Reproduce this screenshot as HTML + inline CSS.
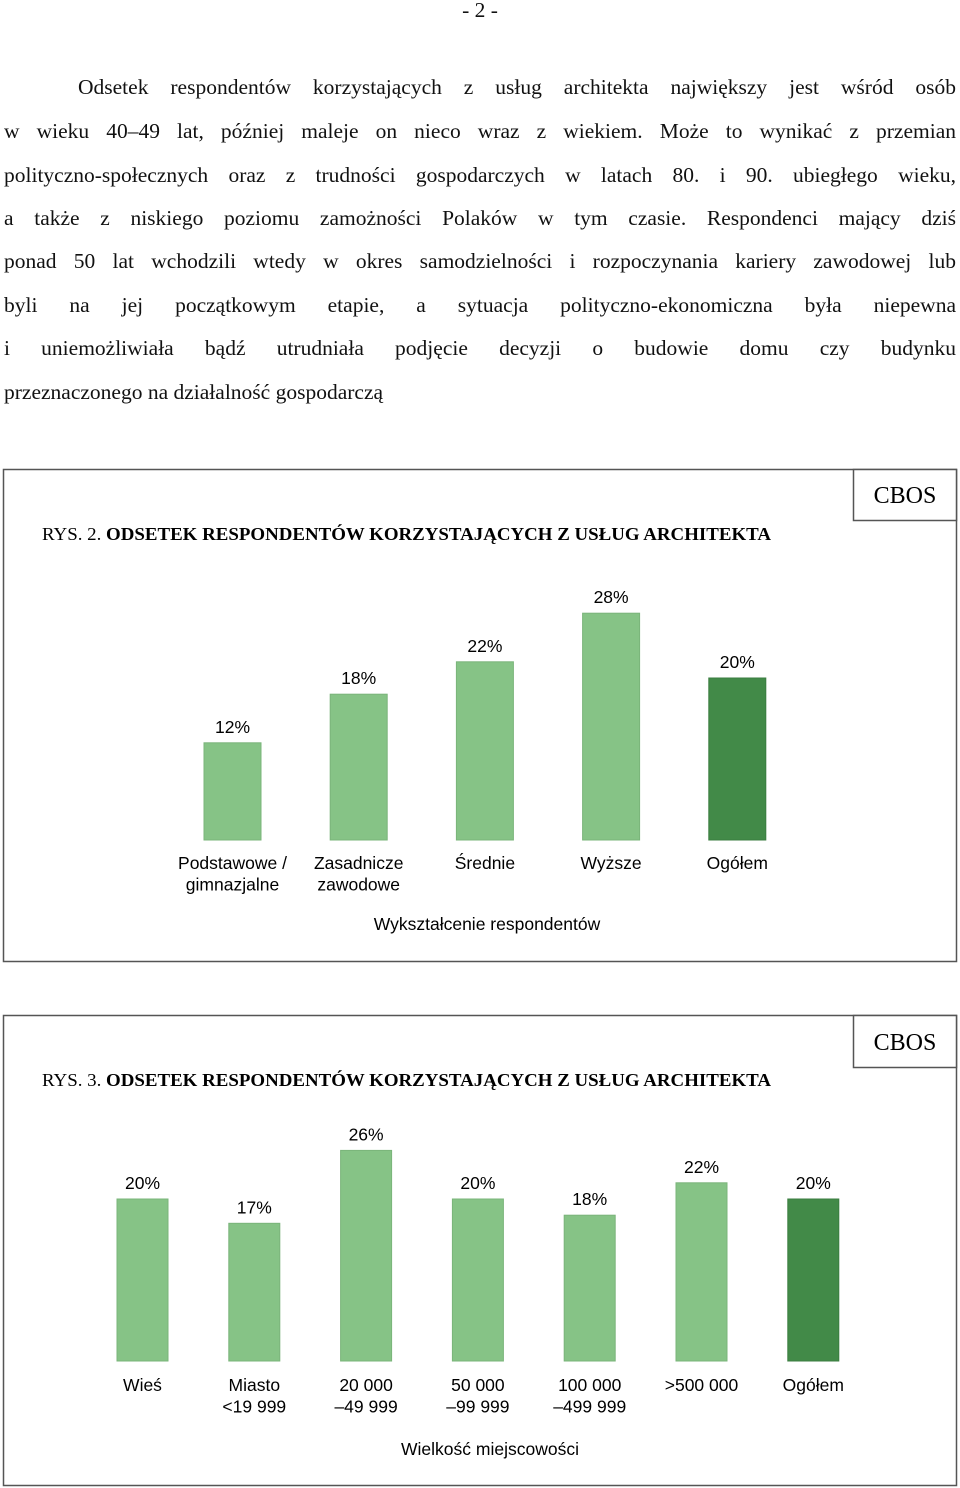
<!DOCTYPE html>
<html><head><meta charset="utf-8"><style>
html,body{margin:0;padding:0;background:#fff;}
body{width:960px;height:1488px;position:relative;overflow:hidden;font-family:"Liberation Serif",serif;color:#111;}
.ln{position:absolute;left:4px;width:952px;font-size:21.5px;line-height:26px;text-align:justify;text-align-last:justify;white-space:nowrap;}
.ln.last{text-align-last:left;}
svg{position:absolute;left:0;top:0;}
</style></head><body>
<div style="position:absolute;left:0;width:960px;top:-2px;text-align:center;font-size:21.5px;">- 2 -</div>
<div>
<div class="ln" style="top:74px;left:78px;width:878px">Odsetek respondentów korzystających z usług architekta największy jest wśród osób</div>
<div class="ln" style="top:118px">w wieku 40–49 lat, później maleje on nieco wraz z wiekiem. Może to wynikać z przemian</div>
<div class="ln" style="top:162px">polityczno-społecznych oraz z trudności gospodarczych w latach 80. i 90. ubiegłego wieku,</div>
<div class="ln" style="top:205px">a także z niskiego poziomu zamożności Polaków w tym czasie. Respondenci mający dziś</div>
<div class="ln" style="top:248px">ponad 50 lat wchodzili wtedy w okres samodzielności i rozpoczynania kariery zawodowej lub</div>
<div class="ln" style="top:292px">byli na jej początkowym etapie, a sytuacja polityczno-ekonomiczna była niepewna</div>
<div class="ln" style="top:335px">i uniemożliwiała bądź utrudniała podjęcie decyzji o budowie domu czy budynku</div>
<div class="ln last" style="top:379px">przeznaczonego na działalność gospodarczą</div>
</div>
<svg id="svg" width="960" height="1488" font-family="Liberation Sans, sans-serif">
<g>
<rect x="3.5" y="469.5" width="953" height="492" fill="none" stroke="#555" stroke-width="1.5"/>
<rect x="853.5" y="469.5" width="103" height="51" fill="#fff" stroke="#555" stroke-width="1.5"/>
<text x="905" y="503" text-anchor="middle" font-family="Liberation Serif, serif" font-size="24">CBOS</text>
<text x="42" y="540" font-family="Liberation Serif, serif" font-size="17.5" textLength="729" lengthAdjust="spacingAndGlyphs">RYS. 2. <tspan font-weight="bold">ODSETEK RESPONDENTÓW KORZYSTAJĄCYCH Z USŁUG ARCHITEKTA</tspan></text>
<text x="487" y="930" text-anchor="middle" font-size="17.5">Wykształcenie respondentów</text>
</g>
<g>
<rect x="3.5" y="1015.5" width="953" height="470" fill="none" stroke="#555" stroke-width="1.5"/>
<rect x="853.5" y="1015.5" width="103" height="52" fill="#fff" stroke="#555" stroke-width="1.5"/>
<text x="905" y="1050" text-anchor="middle" font-family="Liberation Serif, serif" font-size="24">CBOS</text>
<text x="42" y="1086" font-family="Liberation Serif, serif" font-size="17.5" textLength="729" lengthAdjust="spacingAndGlyphs">RYS. 3. <tspan font-weight="bold">ODSETEK RESPONDENTÓW KORZYSTAJĄCYCH Z USŁUG ARCHITEKTA</tspan></text>
<text x="490" y="1455" text-anchor="middle" font-size="17.5">Wielkość miejscowości</text>
</g>
</svg>
<script>
const cats1 = [["Podstawowe /","gimnazjalne"],["Zasadnicze","zawodowe"],["Średnie"],["Wyższe"],["Ogółem"]];
const vals1 = [12,18,22,28,20];
const cats2 = [["Wieś"],["Miasto","<19 999"],["20 000","–49 999"],["50 000","–99 999"],["100 000","–499 999"],[">500 000"],["Ogółem"]];
const vals2 = [20,17,26,20,18,22,20];
const NS="http://www.w3.org/2000/svg";
const svg=document.getElementById('svg');
function mk(t,a){const e=document.createElementNS(NS,t);for(const k in a)e.setAttribute(k,a[k]);return e;}
function draw(cats,vals,x0,step,bw,base,scale,labY,prefix){
  const g=mk('g',{});
  
  
  svg.appendChild(g);
  vals.forEach((v,i)=>{
    const x=x0+i*step, h=v*scale, last=i===vals.length-1;
    const r=mk('rect',{x:x,y:base-h,width:bw,height:h,fill:last?'#428a48':'#86c386',stroke:last?'#3b7d40':'#7ab47a','stroke-width':1});
    
    
    g.appendChild(r);
    const t=mk('text',{x:x+bw/2,y:base-h-10,'text-anchor':'middle','font-size':17.5});
    
    
    t.textContent=v+'%';g.appendChild(t);
    cats[i].forEach((s,j)=>{
      const c=mk('text',{x:x+bw/2,y:labY+j*21.5,'text-anchor':'middle','font-size':17.5});
      
      
      c.textContent=s;g.appendChild(c);
    });
  });
}
draw(cats1,vals1,204,126.2,57,840,8.1,869,'chart-1');
draw(cats2,vals2,117,111.8,51,1361,8.1,1391,'chart-2');
</script>
</body></html>
